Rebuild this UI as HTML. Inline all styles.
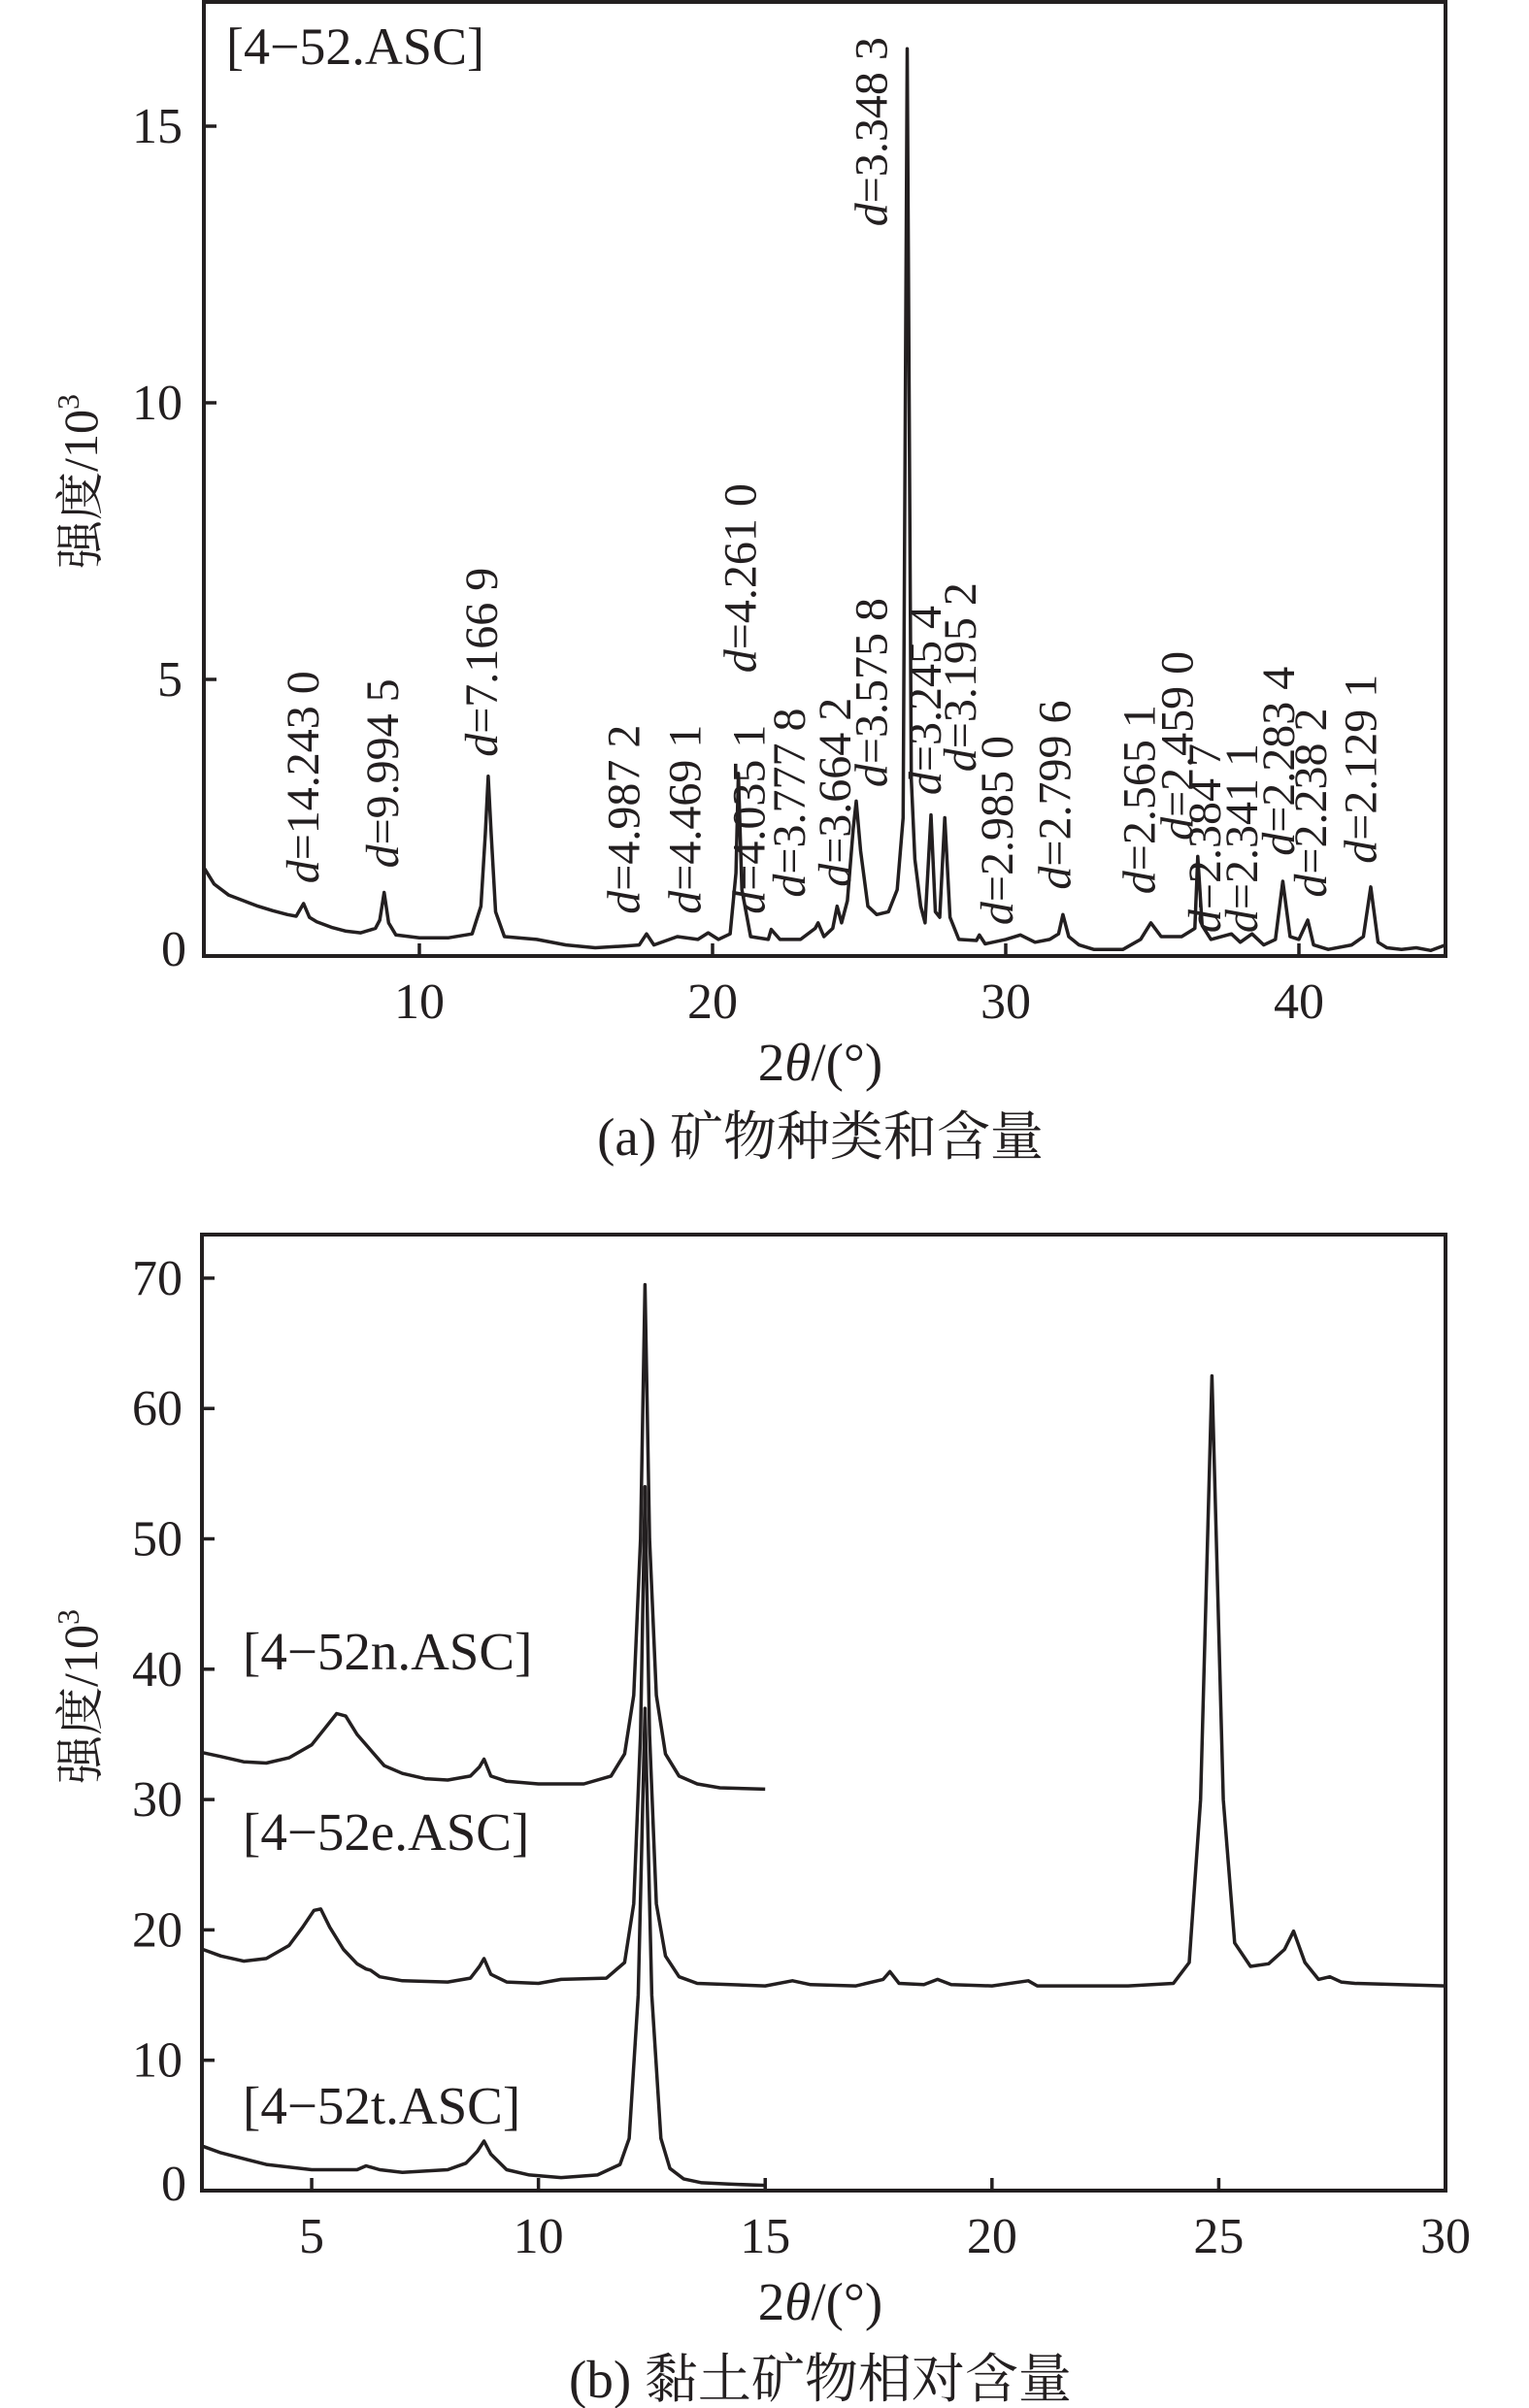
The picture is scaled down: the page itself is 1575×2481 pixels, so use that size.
<!DOCTYPE html>
<html><head><meta charset="utf-8"><style>
html,body{margin:0;padding:0;background:#fff;}
svg{display:block;font-family:"Liberation Serif","Noto Serif CJK SC","Noto Sans CJK SC",serif;}
</style></head><body>
<svg id="fig" width="1575" height="2481" viewBox="0 0 1575 2481" xmlns="http://www.w3.org/2000/svg"></svg>
<script>
// ---- Chart (a) data ----
const aX = [2.65,3,3.5,4,4.5,5,5.5,5.8,6.05,6.25,6.5,7,7.5,8,8.5,8.65,8.8,8.95,9.2,10,11,11.8,12.1,12.25,12.35,12.45,12.6,12.9,14,15,16,17,17.5,17.75,18,18.8,19.5,19.85,20.2,20.6,20.8,20.88,21.0,21.3,21.9,22.0,22.3,23,23.5,23.6,23.8,24.1,24.25,24.4,24.6,24.8,24.9,25.05,25.3,25.6,26.0,26.3,26.5,26.64,26.78,26.9,27.1,27.25,27.45,27.6,27.75,27.92,28.1,28.4,29,29.1,29.3,30,30.5,31,31.5,31.8,31.95,32.15,32.5,33,34,34.6,34.95,35.3,36,36.3,36.45,36.55,36.7,37,37.7,38,38.4,38.8,39.2,39.45,39.7,40.0,40.3,40.5,41,41.8,42.2,42.45,42.7,43,43.5,44,44.5,45];
const aY = [1.6,1.3,1.1,1.0,0.9,0.82,0.75,0.72,0.95,0.7,0.62,0.52,0.45,0.42,0.5,0.65,1.15,0.6,0.38,0.33,0.33,0.4,0.9,2.2,3.25,2.2,0.8,0.35,0.3,0.2,0.15,0.18,0.2,0.4,0.2,0.35,0.3,0.42,0.3,0.4,1.5,3.3,1.2,0.35,0.3,0.48,0.3,0.3,0.5,0.6,0.35,0.5,0.9,0.6,1.0,2.3,2.8,1.9,0.9,0.75,0.8,1.2,2.5,16.4,3.2,1.75,0.9,0.6,2.55,0.8,0.7,2.5,0.7,0.3,0.28,0.38,0.22,0.3,0.38,0.25,0.3,0.4,0.75,0.35,0.2,0.12,0.12,0.3,0.6,0.35,0.35,0.45,0.5,1.8,0.55,0.3,0.4,0.25,0.4,0.2,0.3,1.35,0.35,0.3,0.65,0.2,0.12,0.2,0.35,1.25,0.25,0.15,0.12,0.15,0.1,0.2];
const aXTicks = [10,20,30,40];
const aYTicks = [0,5,10,15];
const aLabelText = ["14.243 0","9.994 5","7.166 9","4.987 2","4.469 1","4.035 1","4.261 0","3.777 8","3.664 2","3.575 8","3.348 3","3.245 4","3.195 2","2.985 0","2.799 6","2.565 1","2.459 0","2.384 7","2.341 1","2.283 4","2.238 2","2.129 1"];
const aLabelX = [6.02,8.74,12.12,16.97,19.06,21.25,20.94,22.61,24.17,25.42,25.42,27.25,28.45,29.7,31.68,34.55,35.85,36.79,38.05,39.3,40.39,42.11];
const aLabelY = [1.31,1.59,3.6,0.76,0.76,0.76,5.12,1.06,1.25,3.05,13.19,2.91,3.33,0.56,1.2,1.12,2.09,0.42,0.42,1.81,1.06,1.67];

// ---- Chart (b) data ----
const bNX = [2.6,3,3.5,4,4.5,5,5.3,5.55,5.75,6,6.3,6.6,7,7.5,8,8.5,8.7,8.8,8.95,9.3,10,11,11.6,11.9,12.1,12.25,12.35,12.45,12.6,12.8,13.1,13.5,14,15];
const bNY = [33.6,33.3,32.9,32.8,33.2,34.2,35.5,36.6,36.4,35.0,33.8,32.6,32.0,31.6,31.5,31.8,32.5,33.1,31.8,31.4,31.2,31.2,31.8,33.5,38,50,69.5,50,38,33.5,31.8,31.2,30.9,30.8];
const bEX = [2.6,3,3.5,4,4.5,4.8,5.05,5.2,5.4,5.7,6,6.2,6.3,6.5,7,8,8.5,8.7,8.8,8.95,9.3,10,10.5,11.5,11.9,12.1,12.25,12.35,12.45,12.6,12.8,13.1,13.5,15,15.6,16,17,17.6,17.75,17.95,18.5,18.8,19.1,20,20.8,21,23,24,24.35,24.6,24.85,25.1,25.35,25.7,26.1,26.45,26.65,26.9,27.2,27.45,27.7,28,30];
const bEY = [18.5,18,17.6,17.8,18.8,20.2,21.5,21.6,20.2,18.5,17.4,17.0,16.9,16.4,16.1,16,16.3,17.2,17.8,16.6,16.0,15.9,16.2,16.3,17.5,22,35,54,35,22,18,16.4,15.9,15.7,16.1,15.8,15.7,16.2,16.8,15.9,15.8,16.2,15.8,15.7,16.1,15.7,15.7,15.9,17.5,30,62.5,30,19,17.2,17.4,18.5,19.9,17.5,16.2,16.4,16.0,15.9,15.7];
const bTX = [2.6,3,4,5,6,6.2,6.5,7,8,8.4,8.65,8.8,8.95,9.3,9.8,10.5,11.3,11.8,12.0,12.2,12.35,12.5,12.7,12.9,13.2,13.6,14.2,15];
const bTY = [3.4,2.9,2.0,1.6,1.6,1.9,1.6,1.4,1.6,2.1,3.0,3.8,2.8,1.6,1.2,1.0,1.2,2.0,4.0,15,37,15,4,1.7,0.9,0.6,0.5,0.4];
const bXTicks = [5,10,15,20,25,30];
const bYTicks = [0,10,20,30,40,50,60,70];
const bSeriesNames = ["[4−52n.ASC]","[4−52e.ASC]","[4−52t.ASC]"];

const NS="http://www.w3.org/2000/svg";
const svg=document.getElementById('fig');
function mk(tag,attrs,parent){const e=document.createElementNS(NS,tag);for(const k in attrs)e.setAttribute(k,attrs[k]);(parent||svg).appendChild(e);return e;}

function drawAxes(g,fx,fy,x0,x1,y0,y1,xt,yt,L,R,T,B){
  for(const v of xt){
    const t=mk('line',{x1:fx(v),x2:fx(v),y1:B,y2:B-13,stroke:'#231f20','stroke-width':3.5},g);
    
    
    const l=mk('text',{x:fx(v),y:B+64,'text-anchor':'middle','font-size':52,fill:'#231f20'},g);
    l.textContent=v;
    
    
  }
  for(const v of yt){
    if(v!==0){
      const t=mk('line',{x1:L,x2:L+13,y1:fy(v),y2:fy(v),stroke:'#231f20','stroke-width':3.5},g);
      
      
    }
    const l=mk('text',{x:v===0?192:188,y:fy(v)+(v===0?10:17),'text-anchor':'end','font-size':52,fill:'#231f20'},g);
    l.textContent=v;
    
    
  }
  const f=mk('rect',{x:L,y:T,width:R-L,height:B-T,fill:'none',stroke:'#231f20','stroke-width':4},g);
  
  
}
function path(g,xs,ys,fx,fy,name){
  let d='';for(let i=0;i<xs.length;i++)d+=(i?'L':'M')+fx(xs[i]).toFixed(1)+','+fy(ys[i]).toFixed(1);
  const p=mk('path',{d:d,fill:'none',stroke:'#231f20','stroke-width':3.5,'stroke-linejoin':'round'},g);
  
  
}

// ---- Chart (a) ----
(function(){
  const L=210,R=1489,T=2,B=985, xmin=2.65, xmax=45.0, ymin=0, ymax=(985-2)/57;
  const fx=v=>L+(v-xmin)/(xmax-xmin)*(R-L);
  const fy=v=>B-(v-ymin)/(ymax-ymin)*(B-T);
  const g=mk('g',{});
  
  
  path(g,aX,aY,fx,fy,'xrd-line-4-52');
  drawAxes(g,fx,fy,xmin,xmax,ymin,ymax,aXTicks,aYTicks,L,R,T,B);
  const tag=mk('text',{x:233,y:66,'font-size':54,fill:'#231f20'},g);
  tag.textContent='[4−52.ASC]';
  
  
  for(let i=0;i<aLabelText.length;i++){
    const x=fx(aLabelX[i]),y=fy(aLabelY[i]);
    const t=mk('text',{transform:`translate(${x.toFixed(1)},${y.toFixed(1)}) rotate(-90)`,'dominant-baseline':'central','font-size':48,fill:'#231f20'},g);
    const it=mk('tspan',{'font-style':'italic'},t);it.textContent='d';
    const rest=mk('tspan',{},t);rest.textContent='='+aLabelText[i];
    
    
  }
  const yt=mk('text',{transform:'translate(100,496) rotate(-90)','text-anchor':'middle','font-size':50,fill:'#231f20'},g);
  yt.innerHTML='强度/10<tspan font-size="32" dy="-19">3</tspan>';
  
  
  const xt=mk('text',{x:845,y:1113,'text-anchor':'middle','font-size':55,fill:'#231f20'},g);
  xt.innerHTML='2<tspan font-style="italic">θ</tspan>/(°)';
  
  
  const cap=mk('text',{x:845,y:1190,'text-anchor':'middle','font-size':55,fill:'#231f20'},g);
  cap.textContent='(a) 矿物种类和含量';
  
  
})();

// ---- Chart (b) ----
(function(){
  const L=208,R=1489,T=1272,B=2257, xmin=2.58, xmax=30, ymin=0, ymax=(2257-1272)/13.43;
  const fx=v=>L+(v-xmin)/(xmax-xmin)*(R-L);
  const fy=v=>B-(v-ymin)/(ymax-ymin)*(B-T);
  const g=mk('g',{});
  
  
  path(g,bNX,bNY,fx,fy,'xrd-line-4-52n');
  path(g,bEX,bEY,fx,fy,'xrd-line-4-52e');
  path(g,bTX,bTY,fx,fy,'xrd-line-4-52t');
  drawAxes(g,fx,fy,xmin,xmax,ymin,ymax,bXTicks,bYTicks,L,R,T,B);
  const ys=[1720,1906,2188];
  for(let i=0;i<3;i++){
    const t=mk('text',{x:250,y:ys[i],'font-size':55,fill:'#231f20'},g);
    t.textContent=bSeriesNames[i];
    
    
  }
  const yt=mk('text',{transform:'translate(100,1748) rotate(-90)','text-anchor':'middle','font-size':50,fill:'#231f20'},g);
  yt.innerHTML='强度/10<tspan font-size="32" dy="-19">3</tspan>';
  
  
  const xt=mk('text',{x:845,y:2390,'text-anchor':'middle','font-size':55,fill:'#231f20'},g);
  xt.innerHTML='2<tspan font-style="italic">θ</tspan>/(°)';
  
  
  const cap=mk('text',{x:845,y:2470,'text-anchor':'middle','font-size':55,fill:'#231f20'},g);
  cap.textContent='(b) 黏土矿物相对含量';
  
  
})();
</script>
</body></html>
